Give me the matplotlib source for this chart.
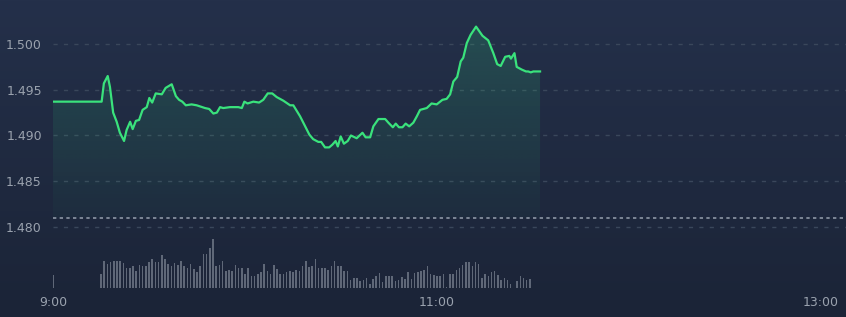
# grafico intradia: precio y volumen
import numpy as np
import matplotlib.pyplot as plt
from matplotlib.colors import to_rgb

# minutos desde las 9:00 y precio
minutos = [0, 15.2, 15.9, 17.1, 17.8, 18.8, 19.9, 20.9, 22.2, 23.0, 24.1,
           24.9, 25.9, 26.9, 28.0, 29.3, 30.1, 31.0, 32.1, 34.0, 35.2, 37.1,
           38.4, 39.4, 40.4, 41.5, 43.3, 44.9, 47.5, 48.8, 50.1, 51.2, 52.2,
           53.2, 55.3, 57.9, 59.0, 59.8, 60.8, 62.6, 64.4, 65.7, 67.1, 68.5,
           69.9, 72.0, 74.1, 75.1, 77.2, 78.8, 80.1, 81.3, 82.9, 83.8, 85.0,
           86.3, 87.3, 88.3, 89.0, 89.9, 90.9, 92.1, 93.1, 94.9, 96.7, 97.7,
           99.1, 100.1, 101.7, 103.8, 104.8, 106.2, 107.1, 108.1, 109.2,
           110.2, 111.3, 112.6, 113.7, 114.7, 116.8, 118.3, 119.9, 121.7,
           123.0, 124.1, 125.1, 126.3, 127.4, 128.2, 129.3, 130.5, 132.2,
           133.4, 134.2, 136.0, 137.6, 138.8, 139.9, 141.3, 142.6, 143.1,
           144.2, 144.9, 146.5, 147.8, 148.5, 149.3, 150.1, 152.2]
precios = [1.4937, 1.4937, 1.4957, 1.4965, 1.4953, 1.4925, 1.4915, 1.4903,
           1.4894, 1.4906, 1.4915, 1.4907, 1.4916, 1.4917, 1.4928, 1.4931,
           1.4941, 1.4936, 1.4946, 1.4945, 1.4952, 1.4956, 1.4943, 1.4939,
           1.4937, 1.4933, 1.4934, 1.4933, 1.4930, 1.4929, 1.4924, 1.4925,
           1.4931, 1.4930, 1.4931, 1.4931, 1.4930, 1.4937, 1.4935, 1.4937,
           1.4936, 1.4939, 1.4946, 1.4946, 1.4942, 1.4938, 1.4933, 1.4933,
           1.4921, 1.4910, 1.4901, 1.4896, 1.4893, 1.4893, 1.4887, 1.4887,
           1.4890, 1.4894, 1.4888, 1.4899, 1.4891, 1.4894, 1.4900, 1.4897,
           1.4903, 1.4898, 1.4898, 1.4910, 1.4918, 1.4918, 1.4914, 1.4909,
           1.4913, 1.4909, 1.4909, 1.4913, 1.4910, 1.4914, 1.4921, 1.4928,
           1.4930, 1.4935, 1.4934, 1.4939, 1.4940, 1.4945, 1.4959, 1.4964,
           1.4981, 1.4985, 1.5001, 1.5010, 1.5019, 1.5013, 1.5009, 1.5004,
           1.4990, 1.4978, 1.4976, 1.4986, 1.4987, 1.4984, 1.4990, 1.4975,
           1.4972, 1.4970, 1.4970, 1.4969, 1.4970, 1.4970]

# cierre anterior
cierre_anterior = 1.481

# volumen por minuto
vol_minutos = [0] + list(range(15, 150))
volumen = [13.3,
           13.7, 27.3, 24.3, 26.3, 27.3, 27.3, 26.7, 25.3, 20.3, 19.7, 22.3,
           17.3, 23.3, 22.0, 22.3, 26.0, 29.0, 26.3, 25.7, 33.3, 29.3, 24.3,
           22.3, 25.3, 23.3, 27.0, 22.3, 20.3, 24.3, 18.7, 16.3, 22.0, 34.3,
           34.3, 40.0, 49.0, 21.7, 23.3, 27.3, 17.3, 18.3, 16.7, 23.0, 20.3,
           20.3, 14.3, 20.0, 11.7, 11.7, 14.3, 15.7, 24.0, 16.7, 14.3, 23.0,
           18.7, 14.3, 13.7, 15.7, 17.0, 16.0, 18.3,
           16.7, 22.3, 27.3, 20.7, 22.3, 29.3, 19.7, 20.3, 20.3, 18.3, 22.3,
           26.7, 22.3, 22.3, 16.7, 16.7, 7.7, 10.3, 10.3, 6.7, 7.7, 10.3,
           4.3, 8.7, 12.0, 15.3, 6.0, 11.7, 11.7, 11.7, 7.3, 8.3, 11.0, 9.3,
           16.3, 9.0, 14.7, 16.3, 16.7, 18.3, 22.3, 13.7, 12.7, 11.7, 12.3,
           14.3, 0.7, 13.7, 14.3, 17.7, 20.3, 23.3, 26.3, 26.3, 21.7, 26.0,
           24.3, 10.3, 14.3, 12.3, 16.0, 17.3, 13.0, 8.3, 10.3, 8.3, 4.3, 0.0,
           7.0, 12.0, 10.0, 7.7, 9.0]

ticks_x = [0, 120, 240]
etiquetas_x = ['9:00', '11:00', '13:00']
ticks_y = [1.480, 1.485, 1.490, 1.495, 1.500]

# colores
verde = '#3ae27c'
gris_texto = '#9aa2ae'
gris_grid = '#3a475b'

W, H = 846, 317
fig = plt.figure(figsize=(W / 100, H / 100), dpi=100)

# fondo con degradado
ax_bg = fig.add_axes([0, 0, 1, 1])
c_top = np.array(to_rgb('#24304a'))
c_bot = np.array(to_rgb('#1b2437'))
t = np.linspace(0, 1, 256)[:, None, None]
fondo = c_top * (1 - t) + c_bot * t
ax_bg.imshow(fondo, aspect='auto', extent=[0, 1, 0, 1])
ax_bg.axis('off')

# eje principal
ax = fig.add_axes([53 / W, 29 / H, 793 / W, 288 / H])
ax.patch.set_alpha(0)

# area con degradado debajo de la linea
area = ax.fill_between(minutos, precios, cierre_anterior,
                       facecolor='none', edgecolor='none')
rgba = np.zeros((256, 1, 4))
rgba[..., :3] = to_rgb('#2fc879')
rgba[..., 3] = np.linspace(0.03, 0.2, 256)[:, None]
im = ax.imshow(rgba, aspect='auto', origin='lower', zorder=1,
               extent=[min(minutos), max(minutos), cierre_anterior,
                       max(precios)])
im.set_clip_path(area.get_paths()[0], transform=ax.transData)

# linea de precio
ax.plot(minutos, precios, color=verde, lw=1.6, zorder=3,
        solid_joinstyle='round')

# cuadricula
for v in ticks_y:
    ax.axhline(v, color=gris_grid, lw=1, ls=(0, (3, 4.5)), zorder=0)
ax.axhline(cierre_anterior, color='#8c96a5', lw=1.2, ls=(0, (2, 2)),
           zorder=2)

ax.set_xlim(0, 247.8)
ax.set_ylim(1.47333, 1.50481)
ax.set_xticks(ticks_x)
ax.set_xticklabels(etiquetas_x)
ax.set_yticks(ticks_y)
ax.set_yticklabels([f'{v:.3f}' for v in ticks_y])
ax.tick_params(length=0, colors=gris_texto, labelsize=9)
ax.tick_params(axis='x', pad=6)
ax.tick_params(axis='y', pad=8)
for s in ax.spines.values():
    s.set_visible(False)

# volumen
ax_vol = fig.add_axes([53 / W, 29 / H, 793 / W, 50 / H])
ax_vol.patch.set_alpha(0)
ax_vol.bar(vol_minutos, volumen, width=0.45, color='#5f6878')
ax_vol.set_xlim(0, 247.8)
ax_vol.set_ylim(0, 50)
ax_vol.axis('off')

fig.savefig('out.png', dpi=100)
